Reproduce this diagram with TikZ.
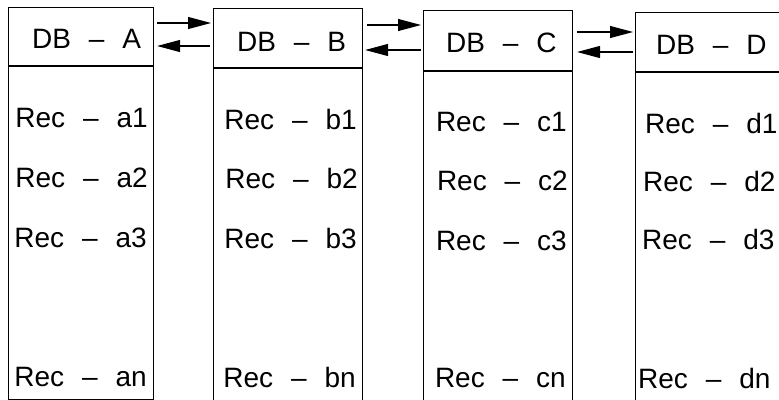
\documentclass[tikz,border=0pt]{standalone}
\usepackage{fontspec}
\setmainfont{Liberation Sans}
\usetikzlibrary{arrows.meta}
\newcommand\recdash{\hspace{0.64em}--\hspace{0.64em}}
\begin{document}
\begin{tikzpicture}[x=1pt,y=-1pt,
  dbbox/.style={draw, line width=1.1pt, inner sep=0pt, anchor=north west},
  lbl/.style={font=\fontsize{28}{28}\selectfont, inner sep=0pt},
  rece/.style={lbl, anchor=base east},
  recw/.style={lbl, anchor=base west},
  arr/.style={line width=1.1pt, -{Triangle[length=23pt,width=12pt]}}]
\useasboundingbox (0,0) rectangle (779,399);
\clip (0,0) rectangle (779,399);
% boxes
\node[dbbox, minimum width=145pt, minimum height=58pt] (ha) at (8,7) {};
\node[dbbox, minimum width=145pt, minimum height=333pt] (ba) at (ha.south west) {};
\node[dbbox, minimum width=149pt, minimum height=59pt] (hb) at (213,8) {};
\node[dbbox, minimum width=149pt, minimum height=360pt] (bb) at (hb.south west) {};
\node[dbbox, minimum width=149pt, minimum height=60pt] (hc) at (423,10) {};
\node[dbbox, minimum width=149pt, minimum height=360pt] (bc) at (hc.south west) {};
\node[dbbox, minimum width=170pt, minimum height=59pt] (hd) at (635,12) {};
\node[dbbox, minimum width=170pt, minimum height=360pt] (bd) at (hd.south west) {};
% header texts
\node[recw] (ta) at (32,48) {DB\recdash A};
\node[recw] (tb) at (237,51) {DB\recdash B};
\node[recw] (tc) at (446,52) {DB\recdash C};
\node[recw] (td) at (656,54) {DB\recdash D};
% records A
\node[rece] (a1) at (148,127) {Rec\recdash a1};
\node[rece] (a2) at (148,187) {Rec\recdash a2};
\node[rece] (a3) at (147,247) {Rec\recdash a3};
\node[rece] (an) at (147,386) {Rec\recdash an};
% records B
\node[rece] (b1) at (357,129) {Rec\recdash b1};
\node[rece] (b2) at (358,188) {Rec\recdash b2};
\node[rece] (b3) at (357,248) {Rec\recdash b3};
\node[rece] (bn) at (356,387) {Rec\recdash bn};
% records C
\node[rece] (c1) at (567,131) {Rec\recdash c1};
\node[rece] (c2) at (568,190) {Rec\recdash c2};
\node[rece] (c3) at (567,250) {Rec\recdash c3};
\node[rece] (cn) at (566,387) {Rec\recdash cn};
% records D
\node[recw] (d1) at (645,133) {Rec\recdash d1};
\node[recw] (d2) at (643,191) {Rec\recdash d2};
\node[recw] (d3) at (642,249) {Rec\recdash d3};
\node[recw] (dn) at (638,388) {Rec\recdash dn};
% arrow levels
\coordinate (yab) at (0,23);
\coordinate (yba) at (0,46);
\coordinate (ybc) at (0,25);
\coordinate (ycb) at (0,50);
\coordinate (ycd) at (0,32);
\coordinate (ydc) at (0,52);
\draw[arr, shorten <=3pt, shorten >=2pt] (ha.east |- yab) -- (hb.west |- yab);
\draw[arr, shorten <=3pt, shorten >=3pt] (hb.west |- yba) -- (ha.east |- yba);
\draw[arr, shorten <=4pt, shorten >=2pt] (hb.east |- ybc) -- (hc.west |- ybc);
\draw[arr, shorten <=2pt, shorten >=2pt] (hc.west |- ycb) -- (hb.east |- ycb);
\draw[arr, shorten <=4pt, shorten >=2pt] (hc.east |- ycd) -- (hd.west |- ycd);
\draw[arr, shorten <=2pt, shorten >=4pt] (hd.west |- ydc) -- (hc.east |- ydc);
\end{tikzpicture}
\end{document}
